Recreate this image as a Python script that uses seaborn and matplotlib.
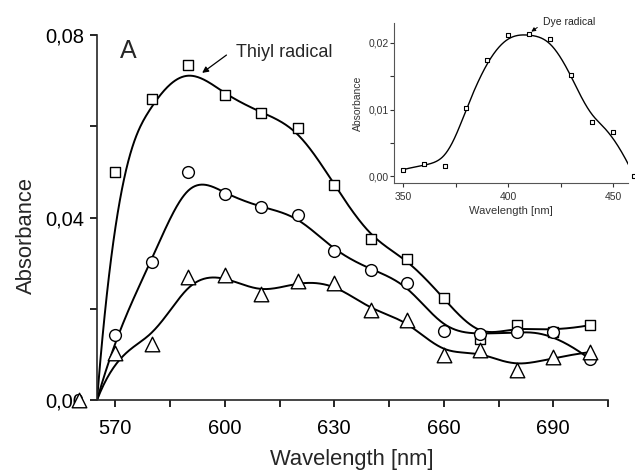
import numpy as np
import matplotlib
matplotlib.use("Agg")
import matplotlib.pyplot as plt
import seaborn as sns
from matplotlib.ticker import FuncFormatter, MultipleLocator

# ---------------- data ----------------
wavelength = [560, 570, 580, 590, 600, 610, 620, 630, 640, 650, 660, 670, 680, 690, 700]
abs_square = [0.0, 0.0500, 0.0660, 0.0734, 0.0669, 0.0630, 0.0597, 0.0472, 0.0352,
              0.0310, 0.0223, 0.0133, 0.0164, 0.0150, 0.0164]
abs_circle = [0.0, 0.0142, 0.0302, 0.0500, 0.0452, 0.0422, 0.0405, 0.0326, 0.0286,
              0.0256, 0.0151, 0.0144, 0.0149, 0.0149, 0.0090]
abs_triangle = [0.0, 0.0103, 0.0122, 0.0269, 0.0273, 0.0232, 0.0260, 0.0256, 0.0197,
                0.0175, 0.0098, 0.0109, 0.0066, 0.0094, 0.0105]
# the fitted curves rise from zero absorbance at the start of the wavelength axis
curve_origin = (565, 0.0)

inset_wavelength = [350, 360, 370, 380, 390, 400, 410, 420, 430, 440, 450, 460]
inset_abs = [0.0010, 0.0018, 0.0015, 0.0102, 0.0174, 0.0212, 0.0213, 0.0206,
             0.0152, 0.0081, 0.0066, 0.0000]

main_xticks = [570, 600, 630, 660, 690]
main_yticks = [0.00, 0.04, 0.08]
inset_xticks = [350, 400, 450]
inset_yticks = [0.00, 0.01, 0.02]


def bspline(xc, yc, k=3, num=600):
    """Clamped uniform B-spline using the data points as control points."""
    xc = np.asarray(xc, float)
    yc = np.asarray(yc, float)
    n = len(xc)
    t = np.concatenate([np.zeros(k), np.linspace(0, 1, n - k + 1), np.ones(k)])
    u = np.linspace(0, 1, num)
    u[-1] -= 1e-12
    N = np.zeros((num, len(t) - 1))
    for i in range(len(t) - 1):
        N[:, i] = ((t[i] <= u) & (u < t[i + 1])).astype(float)
    for d in range(1, k + 1):
        Nn = np.zeros((num, len(t) - 1 - d))
        for i in range(len(t) - 1 - d):
            term = np.zeros(num)
            den1 = t[i + d] - t[i]
            den2 = t[i + d + 1] - t[i + 1]
            if den1 > 0:
                term += (u - t[i]) / den1 * N[:, i]
            if den2 > 0:
                term += (t[i + d + 1] - u) / den2 * N[:, i + 1]
            Nn[:, i] = term
        N = Nn
    return N @ xc, N @ yc


sns.set_style("ticks")
plt.rcParams["font.family"] = ["Liberation Sans", "DejaVu Sans"]
plt.rcParams["axes.linewidth"] = 1.2

fig = plt.figure(figsize=(6.35, 4.72), dpi=100)
ax = fig.add_axes([0.1528, 0.1525, 0.8047, 0.7733])

comma = FuncFormatter(lambda v, p: f"{v:.2f}".replace(".", ","))

series = [
    (abs_square, "s", 58, True),
    (abs_circle, "o", 72, True),
    (abs_triangle, "^", 110, False),
]
for vals, mk, size, clip in series:
    cx, cy = bspline([curve_origin[0]] + wavelength[1:], [curve_origin[1]] + vals[1:])
    sns.lineplot(x=cx, y=cy, ax=ax, sort=False, estimator=None, color="black", lw=1.4)
for vals, mk, size, clip in series:
    sc = sns.scatterplot(x=wavelength, y=vals, ax=ax, marker=mk, s=size,
                         facecolor="white", edgecolor="black", linewidth=1.0,
                         zorder=5)
    sc.collections[-1].set_clip_on(clip)

ax.set_xlim(565, 705)
ax.set_ylim(0, 0.08)
ax.set_xticks(main_xticks)
ax.set_yticks(main_yticks)
ax.xaxis.set_minor_locator(MultipleLocator(15))
ax.yaxis.set_minor_locator(MultipleLocator(0.02))
ax.yaxis.set_major_formatter(comma)
ax.tick_params(which="both", direction="out", length=5, width=1.2, labelsize=14.5,
               colors="black")
ax.tick_params(axis="x", pad=8.5)
ax.tick_params(axis="y", pad=4)
sns.despine(ax=ax)
ax.set_xlabel("Wavelength [nm]", fontsize=15.8)
ax.set_ylabel("Absorbance", fontsize=15.8)
ax.xaxis.set_label_coords(0.498, -0.135)
ax.yaxis.set_label_coords(-0.117, 0.45)
ax.text(0.045, 0.955, "A", transform=ax.transAxes, fontsize=18, va="center", ha="left")
ax.annotate("Thiyl radical", xy=(593.8, 0.0717), xytext=(603.2, 0.0761),
            fontsize=13, ha="left", va="center",
            arrowprops=dict(arrowstyle="-|>", color="black", lw=0.9,
                            mutation_scale=9, shrinkA=6, shrinkB=0,
                            relpos=(0.0, 0.8)))

# ---------------- inset ----------------
ins = fig.add_axes([0.6205, 0.6123, 0.3685, 0.339])
icx, icy = bspline(inset_wavelength, inset_abs)
sns.lineplot(x=icx, y=icy, ax=ins, sort=False, estimator=None, color="black", lw=1.0)
isc = sns.scatterplot(x=inset_wavelength, y=inset_abs, ax=ins, marker="s", s=10,
                      facecolor="white", edgecolor="black", linewidth=0.8, zorder=5)
isc.collections[-1].set_clip_on(False)
ins.set_xlim(345.7, 457)
ins.set_ylim(-0.001, 0.023)
ins.set_xticks(inset_xticks)
ins.set_yticks(inset_yticks)
ins.xaxis.set_minor_locator(MultipleLocator(25))
ins.yaxis.set_minor_locator(MultipleLocator(0.005))
ins.yaxis.set_major_formatter(comma)
ins.tick_params(which="both", direction="out", length=3, width=0.8, labelsize=7.5,
                colors="#333333")
ins.tick_params(axis="x", pad=3.5)
ins.tick_params(axis="y", pad=0.8)
for s in ("left", "bottom"):
    ins.spines[s].set_linewidth(0.8)
    ins.spines[s].set_color("#555555")
sns.despine(ax=ins)
ins.set_facecolor("none")
ins.set_xlabel("Wavelength [nm]", fontsize=8, labelpad=3, color="#333333")
ins.set_ylabel("Absorbance", fontsize=7.5, labelpad=4, color="#333333")
ins.annotate("Dye radical", xy=(411, 0.0217), xytext=(416.5, 0.0232),
             fontsize=7.5, ha="left", va="center", color="#222222",
             annotation_clip=False,
             arrowprops=dict(arrowstyle="-|>", color="black", lw=0.7,
                             mutation_scale=6, shrinkA=2, shrinkB=0,
                             relpos=(0.0, 0.3)))

fig.savefig("out.png", dpi=100)
